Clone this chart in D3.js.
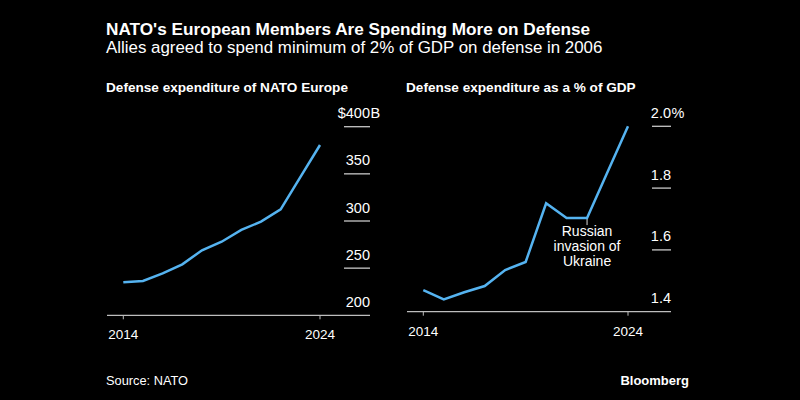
<!DOCTYPE html>
<html>
<head>
<meta charset="utf-8">
<script src="https://cdn.jsdelivr.net/npm/d3@7"></script>
<style>
  html, body { margin: 0; padding: 0; background: #000; }
  svg { display: block; }
  text { font-family: "Liberation Sans", Arial, sans-serif; fill: #fff; }
</style>
</head>
<body>
<svg id="chart" width="800" height="400"></svg>
<script>
// ---- Data ----
const years = [2014, 2015, 2016, 2017, 2018, 2019, 2020, 2021, 2022, 2023, 2024];
const spendingBillions = [235, 236.4, 244.5, 254, 269, 278, 290.5, 299.3, 312.4, 346.6, 380.6];
const spendingPctGDP = [1.47, 1.44, 1.463, 1.483, 1.535, 1.561, 1.751, 1.703, 1.703, 1.852, 2.0];
const spendingTicks = [200, 250, 300, 350, 400];
const pctTicks = [1.4, 1.6, 1.8, 2.0];
const xTickYears = [2014, 2024];
const annotationYear = 2022;
const annotationLines = ["Russian", "invasion of", "Ukraine"];

const LINE_COLOR = "#55b3f0";
const svg = d3.select("#chart");

svg.append("rect").attr("width", 800).attr("height", 400).attr("fill", "#000");

// Titles
svg.append("text").attr("x", 106).attr("y", 35)
  .style("font-size", "17.2px").style("font-weight", "bold")
  .text("NATO's European Members Are Spending More on Defense");
svg.append("text").attr("x", 106).attr("y", 53)
  .style("font-size", "16.9px")
  .text("Allies agreed to spend minimum of 2% of GDP on defense in 2006");

// Footer
svg.append("text").attr("x", 106).attr("y", 385)
  .style("font-size", "12.8px").text("Source: NATO");
svg.append("text").attr("x", 689).attr("y", 385)
  .attr("text-anchor", "end")
  .style("font-size", "13px").style("font-weight", "bold").text("Bloomberg");

function panel(cfg) {
  const g = svg.append("g");
  const x = d3.scaleLinear().domain([2014, 2024]).range(cfg.xRange);
  const y = d3.scaleLinear().domain(cfg.yDomain).range(cfg.yRange);

  g.append("text").attr("x", cfg.titleX).attr("y", 92)
    .style("font-size", "13.6px").style("font-weight", "bold")
    .text(cfg.title);

  // y tick lines + labels
  const tk = g.selectAll(".ytick").data(cfg.ticks).enter().append("g");
  tk.filter(d => d !== cfg.yDomain[0]).append("line")
    .attr("x1", cfg.tickX0).attr("x2", cfg.tickX1)
    .attr("y1", d => y(d)).attr("y2", d => y(d))
    .attr("stroke", "#c8c8c8").attr("stroke-width", 1.3);
  tk.append("text")
    .attr("x", cfg.tickX1).attr("y", d => y(d) - 8.5)
    .attr("text-anchor", "end")
    .style("font-size", "14.5px")
    .text(d => cfg.fmt(d, d === cfg.ticks[cfg.ticks.length - 1]));
  tk.filter(d => d === cfg.ticks[cfg.ticks.length - 1]).append("text")
    .attr("x", cfg.tickX1 + 0.5).attr("y", d => y(d) - 8.5)
    .style("font-size", "14.5px")
    .text(cfg.suffix);

  // x axis baseline
  const by = y(cfg.yDomain[0]);
  g.append("line").attr("x1", cfg.axisX0).attr("x2", cfg.tickX1)
    .attr("y1", by).attr("y2", by)
    .attr("stroke", "#bdbdbd").attr("stroke-width", 1.3);
  const xt = g.selectAll(".xtick").data(xTickYears).enter().append("g");
  xt.append("line").attr("x1", d => x(d)).attr("x2", d => x(d))
    .attr("y1", by).attr("y2", by + 4)
    .attr("stroke", "#bdbdbd").attr("stroke-width", 1);
  xt.append("text").attr("x", d => x(d)).attr("y", by + 24)
    .attr("text-anchor", "middle").style("font-size", "13.5px")
    .text(d => d);

  // annotation
  if (cfg.annotate) {
    const ai = years.indexOf(annotationYear);
    const ax = x(annotationYear), ay = y(cfg.values[ai]);
    g.append("line").attr("x1", ax).attr("x2", ax)
      .attr("y1", ay).attr("y2", ay + 7)
      .attr("stroke", "#ddd").attr("stroke-width", 1);
    g.append("g").selectAll("text").data(annotationLines).enter().append("text")
      .attr("x", ax).attr("y", (d, i) => ay + 18 + i * 15)
      .attr("text-anchor", "middle").style("font-size", "14px")
      .text(d => d);
  }

  // line
  const line = d3.line().x((d, i) => x(years[i])).y(d => y(d));
  g.append("path").datum(cfg.values)
    .attr("d", line).attr("fill", "none")
    .attr("stroke", LINE_COLOR).attr("stroke-width", 2.5)
    .attr("stroke-linejoin", "miter");
}

panel({
  title: "Defense expenditure of NATO Europe",
  titleX: 106,
  values: spendingBillions,
  ticks: spendingTicks,
  yDomain: [200, 400],
  yRange: [315.3, 126.7],
  xRange: [123.3, 320],
  axisX0: 107,
  tickX0: 344,
  tickX1: 370,
  fmt: (d, top) => top ? "$" + d : String(d),
  suffix: "B",
  annotate: false
});

panel({
  title: "Defense expenditure as a % of GDP",
  titleX: 406,
  values: spendingPctGDP,
  ticks: pctTicks,
  yDomain: [1.4, 2.0],
  yRange: [311.7, 126.3],
  xRange: [423.3, 628],
  axisX0: 407,
  tickX0: 652,
  tickX1: 671,
  fmt: (d) => d3.format(".1f")(d),
  suffix: "%",
  annotate: true
});
</script>
</body>
</html>
